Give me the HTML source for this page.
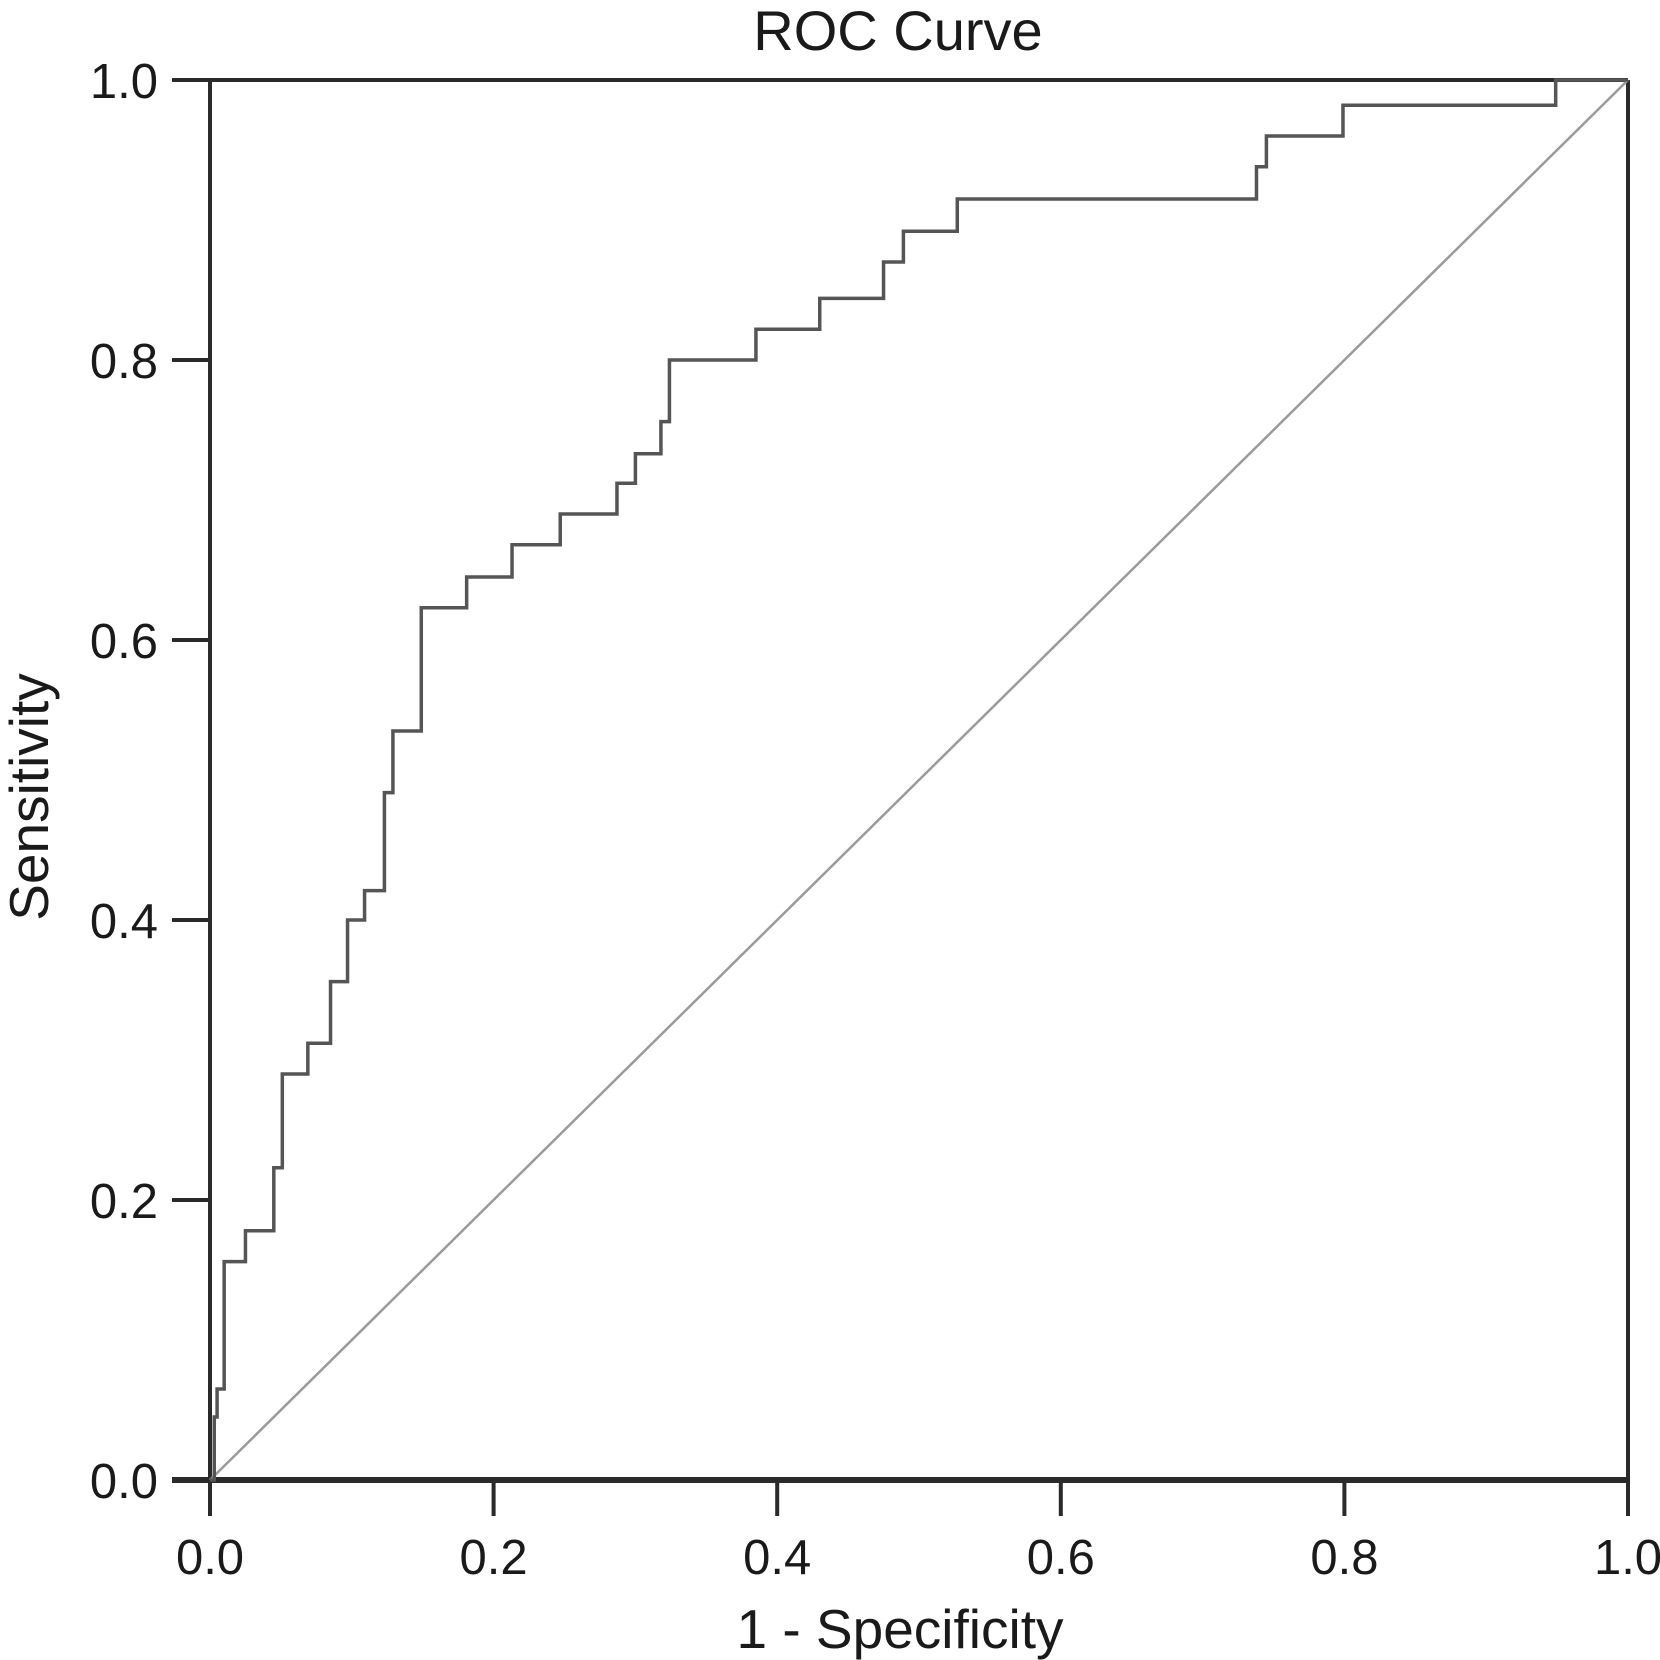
<!DOCTYPE html>
<html><head><meta charset="utf-8"><style>
html,body{margin:0;padding:0;background:#fff;}
svg{display:block;}
text{font-family:"Liberation Sans",sans-serif;fill:#1a1a1a;}
</style></head><body>
<svg id="chart" width="1660" height="1660" viewBox="0 0 1660 1660">
<text x="898" y="50" font-size="56" text-anchor="middle">ROC Curve</text>
<g id="axes"></g>
<g id="series"></g>
<text x="900" y="1648" font-size="55" text-anchor="middle">1 - Specificity</text>
<text x="0" y="0" font-size="55" text-anchor="middle" transform="translate(48,797) rotate(-90)">Sensitivity</text>
</svg>
<script>
const fprValues = [0,0.003,0.005,0.01,0.025,0.045,0.051,0.069,0.085,0.097,0.109,0.123,0.129,0.149,0.181,0.213,0.247,0.287,0.3,0.318,0.324,0.385,0.43,0.475,0.489,0.527,0.738,0.745,0.799,0.949,1.0];
const tprValues = [0,0.045,0.065,0.156,0.178,0.223,0.29,0.312,0.356,0.4,0.421,0.491,0.535,0.623,0.645,0.668,0.69,0.712,0.733,0.756,0.8,0.822,0.844,0.87,0.892,0.915,0.938,0.96,0.982,1.0,1.0];
const xTicks = [0,0.2,0.4,0.6,0.8,1.0];
const yTicks = [0,0.2,0.4,0.6,0.8,1.0];
const xTickLabels = ["0.0","0.2","0.4","0.6","0.8","1.0"];
const yTickLabels = ["0.0","0.2","0.4","0.6","0.8","1.0"];

const X0=210, X1=1628, Y0=1480, Y1=80;
const sx = v => X0 + v*(X1-X0);
const sy = v => Y0 - v*(Y0-Y1);
const NS="http://www.w3.org/2000/svg";
const axesG=document.getElementById('axes');
const seriesG=document.getElementById('series');
function mk(tag,attrs,parent){const e=document.createElementNS(NS,tag);for(const k in attrs)e.setAttribute(k,attrs[k]);parent.appendChild(e);return e;}

const diag=mk('line',{x1:sx(0),y1:sy(0),x2:sx(1),y2:sy(1),stroke:'#9a9a9a','stroke-width':2.5},seriesG);



let d='M'+sx(fprValues[0])+','+sy(tprValues[0]);
for(let i=1;i<fprValues.length;i++){
  d+=' H'+sx(fprValues[i])+' V'+sy(tprValues[i]);
}
const curve=mk('path',{d:d,fill:'none',stroke:'#555','stroke-width':3.5},seriesG);



const frameTop=mk('line',{x1:172,y1:sy(1),x2:sx(1),y2:sy(1),stroke:'#2a2a2a','stroke-width':4},axesG);


const frameRight=mk('line',{x1:sx(1),y1:sy(1),x2:sx(1),y2:1516,stroke:'#2a2a2a','stroke-width':4},axesG);


const yAxisLine=mk('line',{x1:sx(0),y1:sy(1),x2:sx(0),y2:1516,stroke:'#2a2a2a','stroke-width':4},axesG);


const xAxisLine=mk('line',{x1:172,y1:sy(0),x2:sx(1),y2:sy(0),stroke:'#2a2a2a','stroke-width':6},axesG);



yTicks.forEach((v,i)=>{
  const t=mk('line',{x1:172,y1:sy(v),x2:sx(0),y2:sy(v),stroke:'#2a2a2a','stroke-width':4},axesG);
  
  
  const l=mk('text',{x:158,y:sy(v)+18,'font-size':49,'text-anchor':'end'},axesG);
  l.textContent=yTickLabels[i];
  
  
});
xTicks.forEach((v,i)=>{
  const t=mk('line',{x1:sx(v),y1:sy(0),x2:sx(v),y2:1516,stroke:'#2a2a2a','stroke-width':4},axesG);
  
  
  const l=mk('text',{x:sx(v),y:1574,'font-size':49,'text-anchor':'middle'},axesG);
  l.textContent=xTickLabels[i];
  
  
});
</script>
</body></html>
